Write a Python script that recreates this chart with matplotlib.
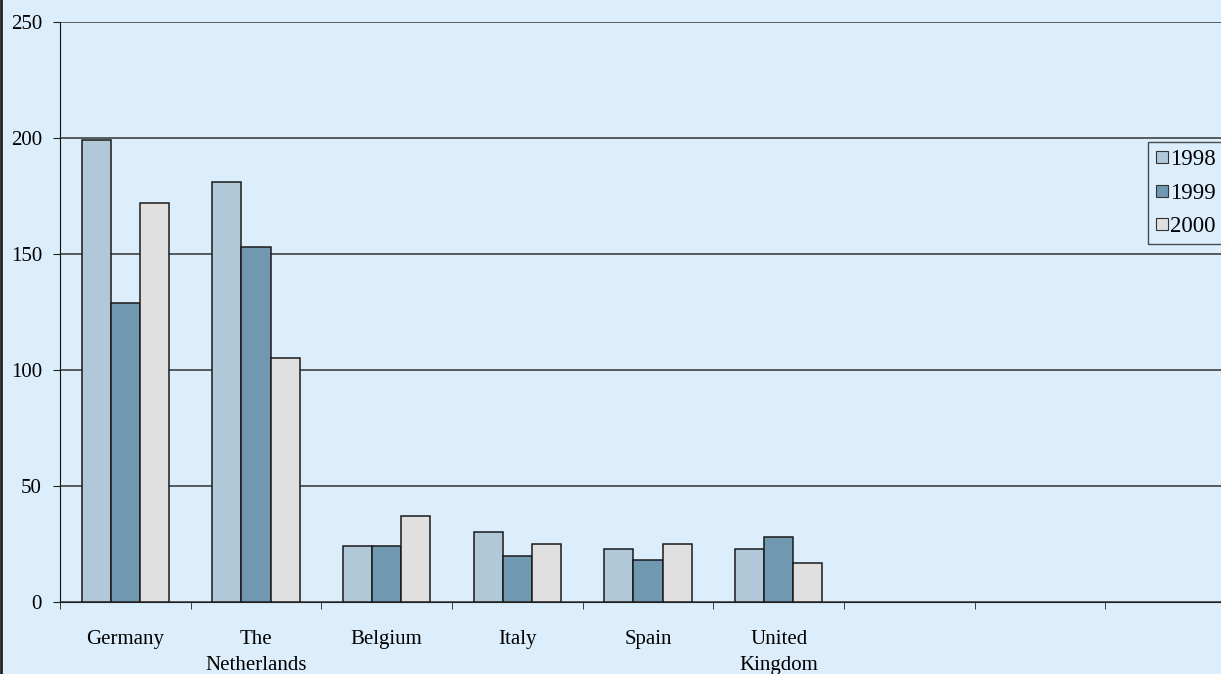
import numpy as np
import matplotlib.pyplot as plt
from matplotlib.lines import Line2D

countries = ['Germany', 'The\nNetherlands', 'Belgium', 'Italy', 'Spain', 'United\nKingdom', '', '', '']
years = ['1998', '1999', '2000']
v1998 = [199, 181, 24, 30, 23, 23]
v1999 = [129, 153, 24, 20, 18, 28]
v2000 = [172, 105, 37, 25, 25, 17]
colors = ['#b0c8d8', '#7098b0', '#e0e0e0']
bg = '#dceefb'

plt.rcParams['font.family'] = ['Liberation Serif', 'DejaVu Serif']
plt.rcParams['font.size'] = 15

fig = plt.figure(figsize=(12.21, 6.74), dpi=100, facecolor=bg)
# axes runs past the right edge of the figure
W, H = 1221, 674
ax = fig.add_axes([60 / W, (H - 602) / H, (1236 - 60) / W, (602 - 22) / H])
ax.set_facecolor(bg)

n = len(countries)
x = np.arange(n)
w = 0.222
for i, vals in enumerate([v1998, v1999, v2000]):
    xi = np.arange(len(vals)) + (i - 1) * w
    ax.bar(xi, vals, width=w, color=colors[i], edgecolor='#1a1a1a', linewidth=1.1,
           zorder=3, label=years[i])

ax.set_xlim(-0.5, n - 0.5)
ax.set_ylim(0, 250)
ax.set_yticks([0, 50, 100, 150, 200, 250])
ax.yaxis.grid(True, color='#333333', linewidth=1.1, zorder=0)
ax.set_axisbelow(True)

ax.set_xticks(x)
ax.set_xticklabels(countries, linespacing=1.55, va='top')
ax.set_xticks(np.arange(n + 1) - 0.5, minor=True)
ax.tick_params(axis='x', which='major', length=0, pad=20)
ax.tick_params(axis='x', which='minor', length=5, direction='out', color='#222222')
ax.tick_params(axis='y', length=5, direction='out', pad=8, color='#222222')

for s in ['top', 'right']:
    ax.spines[s].set_visible(False)
ax.spines['left'].set_color('#111111')
ax.spines['bottom'].set_color('#222222')

handles = [Line2D([], [], marker='s', linestyle='none', markersize=9,
                  markerfacecolor=c, markeredgecolor='#333333', markeredgewidth=0.8)
           for c in colors]
leg = fig.legend(handles, years, loc='upper left', bbox_to_anchor=(1148 / W, 1 - 142 / H),
                 frameon=True, fancybox=False, handlelength=0.6, handletextpad=0.05,
                 labelspacing=0.55, borderpad=0.3, borderaxespad=0, fontsize=16.5)
leg.get_frame().set_edgecolor('#222222')
leg.get_frame().set_facecolor(bg)
leg.get_frame().set_linewidth(1)

# left border of the chart frame
fig.add_artist(Line2D([0.001, 0.001], [0, 1], color='#222222', linewidth=2))

fig.savefig('out.png', dpi=100, facecolor=bg)
